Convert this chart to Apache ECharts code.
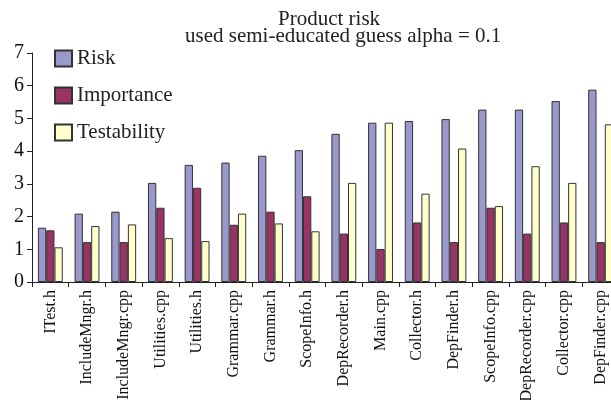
<!DOCTYPE html>
<html>
<head>
<meta charset="utf-8">
<script src="https://cdn.jsdelivr.net/npm/echarts@6/dist/echarts.min.js"></script>
<style>
body{margin:0;padding:0;background:#fff;}
#main{width:611px;height:400px;}
</style>
</head>
<body>
<div id="main"></div>
<script>
// 数据
var files=['ITest.h','IncludeMngr.h','IncludeMngr.cpp','Utilities.cpp','Utilities.h','Grammar.cpp','Grammar.h','ScopeInfo.h',
	'DepRecorder.h','Main.cpp','Collector.h','DepFinder.h','ScopeInfo.cpp','DepRecorder.cpp','Collector.cpp','DepFinder.cpp'];
var risk=[1.66,2.09,2.15,3.03,3.58,3.65,3.86,4.03,4.53,4.87,4.92,4.98,5.27,5.27,5.53,5.88];
var importance=[1.58,1.22,1.22,2.27,2.88,1.75,2.15,2.62,1.48,1.01,1.82,1.22,2.27,1.48,1.82,1.22];
var testability=[1.06,1.71,1.76,1.34,1.25,2.09,1.79,1.55,3.03,4.87,2.70,4.08,2.32,3.54,3.03,4.82];
var yTicks=[0,7,1];

var font='"Liberation Serif", "Times New Roman", serif';
var myChart=echarts.init(document.getElementById('main'));

function bar(name,data,color){
	return {
		name:name,
		type:'bar',
		data:data,
		barWidth:8.3,
		barGap:'0%',
		itemStyle:{color:color,borderColor:'#333',borderWidth:1},
		emphasis:{disabled:true}
	};
}

var option={
	animation:false,
	textStyle:{fontFamily:font,color:'#111'},
	title:[
		{text:'Product risk',left:278,top:9,padding:0,
			textStyle:{fontFamily:font,fontSize:21,fontWeight:'normal',color:'#222',lineHeight:20}},
		{text:'used semi-educated guess alpha = 0.1',left:185,top:26,padding:0,
			textStyle:{fontFamily:font,fontSize:21,fontWeight:'normal',color:'#222',lineHeight:20}}
	],
	legend:{
		orient:'vertical',
		left:54,
		top:48,
		padding:0,
		itemWidth:17,
		itemHeight:16,
		itemGap:16,
		icon:'rect',
		textStyle:{fontFamily:font,fontSize:21,color:'#222',lineHeight:16},
		data:['Risk','Importance','Testability']
	},
	grid:{left:32,right:-8,top:53,bottom:118,containLabel:false,outerBoundsMode:'none'},
	xAxis:{
		type:'category',
		data:files,
		axisLine:{lineStyle:{color:'#222',width:1}},
		axisTick:{show:true,length:5,lineStyle:{color:'#222'}},
		axisLabel:{interval:0,rotate:90,fontSize:16,fontFamily:font,color:'#111',margin:8}
	},
	yAxis:{
		type:'value',
		min:yTicks[0],
		max:yTicks[1],
		interval:yTicks[2],
		splitLine:{show:false},
		axisLine:{show:true,lineStyle:{color:'#222',width:1}},
		axisTick:{show:true,length:5,lineStyle:{color:'#222'}},
		axisLabel:{fontSize:20,fontFamily:font,color:'#111',margin:8}
	},
	series:[
		bar('Risk',risk,'#9999cc'),
		bar('Importance',importance,'#993366'),
		bar('Testability',testability,'#ffffcc')
	]
};
myChart.setOption(option);
</script>
</body>
</html>
